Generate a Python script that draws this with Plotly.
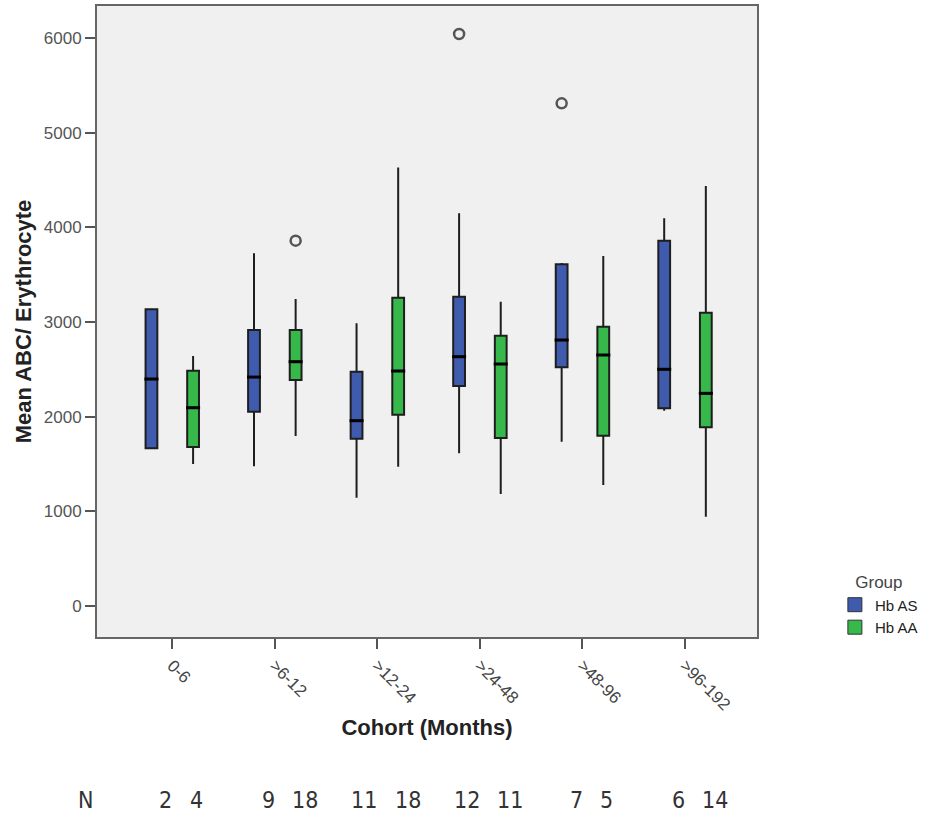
import plotly.graph_objects as go

# ---------------- data ----------------
categories = ["0-6", ">6-12", ">12-24", ">24-48", ">48-96", ">96-192"]
groups = ["Hb AS", "Hb AA"]

as_lowerfence = [1666, 1478, 1144, 1613, 1736, 2063]
as_q1         = [1666, 2053, 1768, 2324, 2522, 2089]
as_median     = [2398, 2419, 1958, 2634, 2810, 2501]
as_q3         = [3135, 2916, 2476, 3268, 3610, 3860]
as_upperfence = [3135, 3726, 2987, 4149, 3625, 4096]
as_outlier_cat = [">24-48", ">48-96"]
as_outlier_val = [6043, 5311]

aa_lowerfence = [1500, 1796, 1472, 1183, 1278, 943]
aa_q1         = [1680, 2388, 2021, 1775, 1799, 1888]
aa_median     = [2095, 2581, 2483, 2557, 2652, 2247]
aa_q3         = [2486, 2916, 3257, 2856, 2951, 3099]
aa_upperfence = [2641, 3243, 4634, 3215, 3698, 4437]
aa_outlier_cat = [">6-12"]
aa_outlier_val = [3860]

n_as = [2, 9, 11, 12, 7, 6]
n_aa = [4, 18, 18, 11, 5, 14]

y_ticks = [0, 1000, 2000, 3000, 4000, 5000, 6000]

# ---------------- style / layout constants ----------------
COL_AS = "#3f5bae"
COL_AA = "#36b84a"
OFFSET = 0.203          # horizontal offset of each group's box from category centre
BOX_W = 0.115
FONT = "Liberation Sans, Arial, sans-serif"
NARROW = "Liberation Sans Narrow, Arial Narrow, DejaVu Sans Condensed, sans-serif"

idx = {c: i for i, c in enumerate(categories)}

fig = go.Figure()

series = [
    ("Hb AS", COL_AS, -OFFSET, as_lowerfence, as_q1, as_median, as_q3, as_upperfence,
     as_outlier_cat, as_outlier_val),
    ("Hb AA", COL_AA, +OFFSET, aa_lowerfence, aa_q1, aa_median, aa_q3, aa_upperfence,
     aa_outlier_cat, aa_outlier_val),
]

for name, col, off, lf, q1, med, q3, uf, ocat, oval in series:
    xs = [idx[c] + off for c in categories]
    fig.add_trace(go.Box(
        x=xs, lowerfence=lf, q1=q1, median=med, q3=q3, upperfence=uf,
        width=BOX_W, fillcolor=col, whiskerwidth=0,
        line=dict(color="#1e1e1e", width=2),
        boxpoints=False, name=name, showlegend=False, hoverinfo="skip",
    ))
    # thicker median bar
    fig.add_trace(go.Scatter(
        x=xs, y=med, mode="markers", showlegend=False, hoverinfo="skip",
        marker=dict(symbol="line-ew", size=10, line=dict(color="#000000", width=3)),
    ))
    # outliers
    fig.add_trace(go.Scatter(
        x=[idx[c] + off for c in ocat], y=oval, mode="markers",
        showlegend=False, hoverinfo="skip",
        marker=dict(symbol="circle-open", size=10, color="#555555",
                    line=dict(color="#555555", width=2.5)),
    ))

# legend entries (square swatches)
for name, col in [("Hb AS", COL_AS), ("Hb AA", COL_AA)]:
    fig.add_trace(go.Scatter(
        x=[None], y=[None], mode="markers", name=name,
        marker=dict(symbol="square", size=14, color=col,
                    line=dict(color="#333333", width=1)),
    ))

# N annotations
annotations = [dict(text="N", x=-0.0167, y=-0.2587, xref="paper", yref="paper",
                    showarrow=False, xanchor="center", yanchor="middle",
                    font=dict(family=NARROW, size=23, color="#333333"))]
for c, na, nb in zip(categories, n_as, n_aa):
    annotations.append(dict(text=str(na), x=idx[c] + 0.02, y=-0.2587, xref="x", yref="paper",
                            showarrow=False, xanchor="right", yanchor="middle",
                            font=dict(family=NARROW, size=23, color="#333333")))
    annotations.append(dict(text=str(nb), x=idx[c] + 0.15, y=-0.2587, xref="x", yref="paper",
                            showarrow=False, xanchor="left", yanchor="middle",
                            font=dict(family=NARROW, size=23, color="#333333")))

fig.update_layout(
    width=932, height=816,
    margin=dict(l=97, r=175, t=6, b=179, autoexpand=False),
    paper_bgcolor="white", plot_bgcolor="#f0f0f0",
    font=dict(family=FONT, color="#333333"),
    showlegend=True,
    legend=dict(
        x=1.118, y=0.112, xanchor="left", yanchor="top",
        title=dict(text="Group", side="top center",
                   font=dict(family=FONT, size=17, color="#444444")),
        font=dict(family=FONT, size=15, color="#222222"),
        bgcolor="rgba(0,0,0,0)", tracegroupgap=0, itemsizing="trace",
    ),
    annotations=annotations,
)

fig.update_xaxes(
    range=[-0.734, 5.702],
    tickmode="array", tickvals=list(range(len(categories))), ticktext=categories,
    tickangle=45, ticks="outside", ticklen=10, tickwidth=2, tickcolor="#555555",
    tickfont=dict(family=FONT, size=17, color="#444444"),
    showline=True, linecolor="#666666", linewidth=2, mirror=True,
    showgrid=False, zeroline=False,
    title=dict(text="Cohort (Months)", standoff=6,
               font=dict(family=FONT, size=22, color="#222222", weight="bold")),
)
fig.update_yaxes(
    range=[-327, 6339],
    tickmode="array", tickvals=y_ticks, ticktext=[str(v) for v in y_ticks],
    ticks="outside", ticklen=10, tickwidth=2, tickcolor="#555555",
    tickfont=dict(family=FONT, size=17, color="#555555"),
    showline=True, linecolor="#666666", linewidth=2, mirror=True,
    showgrid=False, zeroline=False,
    title=dict(text="Mean ABC/ Erythrocyte", standoff=6,
               font=dict(family=FONT, size=22, color="#222222", weight="bold")),
)

fig.write_html("out.html")
